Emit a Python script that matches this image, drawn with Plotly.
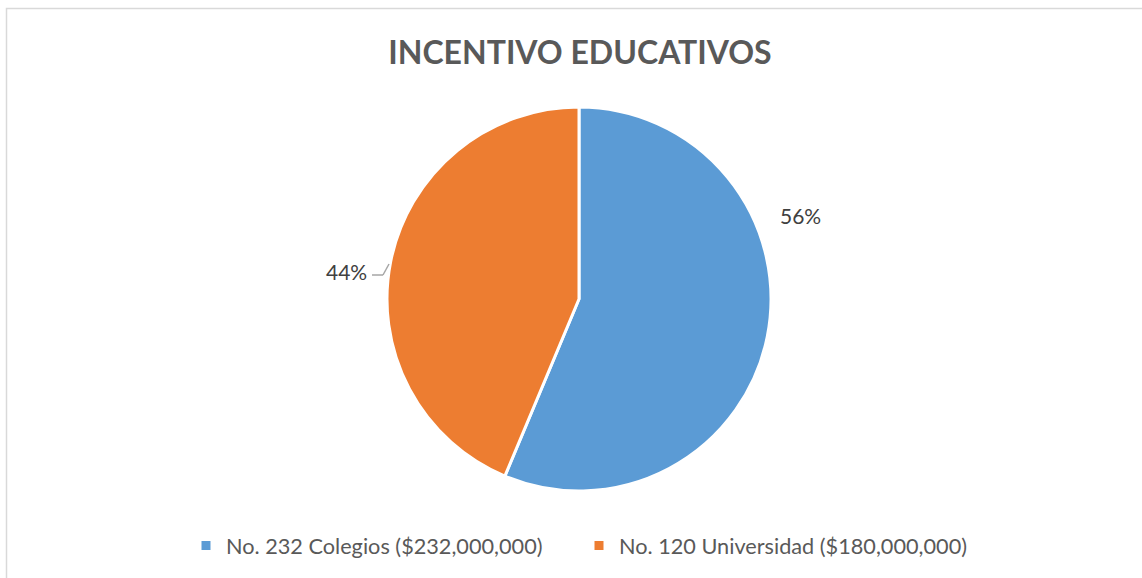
import plotly.graph_objects as go

labels = ["No. 232 Colegios ($232,000,000)", "No. 120 Universidad ($180,000,000)"]
values = [232000000, 180000000]
colors = ["#5B9BD5", "#ED7D31"]
title = "INCENTIVO EDUCATIVOS"

W, H = 1142, 578
total = sum(values)
pcts = [f"{round(v / total * 100)}%" for v in values]

fig = go.Figure(go.Pie(
    labels=labels, values=values, sort=False, direction="clockwise", rotation=0,
    marker=dict(colors=colors, line=dict(color="white", width=3)),
    textinfo="none", hoverinfo="label+percent",
    domain=dict(x=[387 / W, 771 / W], y=[1 - 491 / H, 1 - 107 / H]),
))

font = "Lato, 'Open Sans', sans-serif"
fig.add_annotation(x=800 / W, y=1 - 216 / H, xref="paper", yref="paper", text=pcts[0],
                   xanchor="center", yanchor="middle", showarrow=False,
                   font=dict(family=font, size=21, color="#404040"))
fig.add_annotation(x=346 / W, y=1 - 271 / H, xref="paper", yref="paper", text=pcts[1],
                   xanchor="center", yanchor="middle", showarrow=False,
                   font=dict(family=font, size=21, color="#404040"))
# leader line for 44%
fig.add_shape(type="line", xref="paper", yref="paper", x0=372 / W, x1=383 / W,
              y0=1 - 275 / H, y1=1 - 275 / H, line=dict(color="#A6A6A6", width=1.5), layer="above")
fig.add_shape(type="line", xref="paper", yref="paper", x0=383 / W, x1=389 / W,
              y0=1 - 275 / H, y1=1 - 264 / H, line=dict(color="#A6A6A6", width=1.5), layer="above")
# chart border
fig.add_shape(type="rect", xref="paper", yref="paper", x0=6.5 / W, x1=1.2, y0=-0.2, y1=1 - 8.5 / H,
              line=dict(color="#D9D9D9", width=1.5))

fig.update_layout(
    width=W, height=H, margin=dict(l=0, r=0, t=0, b=0, autoexpand=False),
    paper_bgcolor="white", plot_bgcolor="white",
    title=dict(text=f"<b>{title}</b>", x=580 / W, xanchor="center", y=1 - 53 / H, yanchor="middle",
               font=dict(family=font, size=32, color="#595959")),
    legend=dict(orientation="h", xref="container", yref="container",
                x=579 / W, xanchor="center", y=1 - 546 / H, yanchor="middle",
                font=dict(family=font, size=21.7, color="#595959"), itemwidth=30,
                traceorder="normal", entrywidth=348, entrywidthmode="pixels"),
    showlegend=True,
)
fig.write_html("out.html", config={"displayModeBar": False},
               post_script="document.body.style.margin='0';")
